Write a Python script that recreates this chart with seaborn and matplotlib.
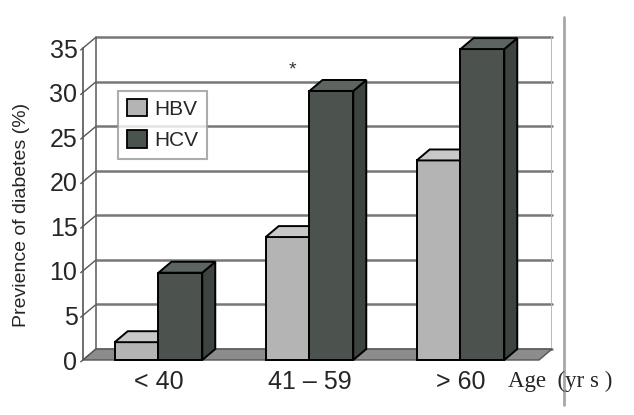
import numpy as np
import pandas as pd
import seaborn as sns
import matplotlib
matplotlib.use("Agg")
import matplotlib.pyplot as plt
from matplotlib.patches import Polygon, Patch
from matplotlib.lines import Line2D

age_groups = ["< 40", "41 \u2013 59", "> 60"]
viruses = ["HBV", "HCV"]
hbv_prev = [2.0, 13.8, 22.4]
hcv_prev = [9.8, 30.2, 34.9]
y_ticks = [0, 5, 10, 15, 20, 25, 30, 35]

df = pd.DataFrame({
    "age": age_groups * 2,
    "virus": ["HBV"] * 3 + ["HCV"] * 3,
    "prev": hbv_prev + hcv_prev,
})

front = {"HBV": "#b4b4b4", "HCV": "#4b534e"}
top = {"HBV": "#c8c8c8", "HCV": "#5d6560"}
side = {"HBV": "#999999", "HCV": "#3d433f"}

sns.set_style("white")
plt.rcParams["font.family"] = ["Liberation Sans", "DejaVu Sans"]

fig = plt.figure(figsize=(6.34, 4.15), dpi=100)
ax = fig.add_axes([83 / 634, 55 / 415, 469 / 634, 324.3 / 415])

sns.barplot(data=df, x="age", y="prev", hue="virus", hue_order=viruses,
            palette=[front[v] for v in viruses], width=0.58,
            edgecolor="black", linewidth=1.4, legend=False, ax=ax)

x_lo, x_front_hi = -0.5, 2.52
dx, dy = 0.086, 1.23   # depth offset of the fake 3d
ax.set_xlim(x_lo, x_front_hi + dx)
ax.set_ylim(0, 36.4)
for s in ax.spines.values():
    s.set_visible(False)

# back wall, floor and slanted ticks
grid_c = "#777777"
for t in y_ticks:
    ax.plot([x_lo + dx, x_front_hi + dx], [t + dy, t + dy], color=grid_c,
            lw=1.8, zorder=0.5, clip_on=False)
    ax.plot([x_lo - 0.015, x_lo + dx], [t - 0.2, t + dy], color="#555555",
            lw=1.0, zorder=0.6, clip_on=False)
ax.plot([x_lo + dx] * 2, [dy, 35 + dy], color="#666666", lw=1.2, zorder=0.6)
ax.plot([x_front_hi + dx] * 2, [dy, 35 + dy], color="#bbbbbb", lw=1.4, zorder=0.6)
ax.plot([x_lo] * 2, [0, 35], color="#555555", lw=1.2, zorder=0.6, clip_on=False)
floor = Polygon([(x_lo, 0), (x_front_hi, 0), (x_front_hi + dx, dy), (x_lo + dx, dy)],
                closed=True, facecolor="#8c8c8c", edgecolor="#555555", lw=1.0,
                zorder=1, clip_on=False)
ax.add_patch(floor)

# 3d faces on each bar
bars = list(ax.patches)[:6]
for i, rect in enumerate(bars):
    v = viruses[i // 3]
    z = 3 + i // 3
    x, w, h = rect.get_x(), rect.get_width(), rect.get_height()
    rect.set_zorder(z)
    rect.set_clip_on(False)
    tp = Polygon([(x, h), (x + w, h), (x + w + dx, h + dy), (x + dx, h + dy)],
                 closed=True, facecolor=top[v], edgecolor="black", lw=1.4,
                 zorder=z, clip_on=False)
    sd = Polygon([(x + w, 0), (x + w + dx, dy), (x + w + dx, h + dy), (x + w, h)],
                 closed=True, facecolor=side[v], edgecolor="black", lw=1.4,
                 zorder=z, clip_on=False)
    ax.add_patch(sd)
    ax.add_patch(tp)

ax.text(0.89, 32.6, "*", ha="center", va="center", fontsize=14, color="#333333")

ax.set_yticks(y_ticks)
ax.set_yticklabels([str(t) for t in y_ticks])
ax.tick_params(axis="y", length=0, pad=4, labelsize=18)
ax.tick_params(axis="x", length=0, pad=7, labelsize=18)
ax.set_xlabel("")
ax.set_ylabel("Previence of diabetes (%)", fontsize=14)
ax.yaxis.set_label_coords(-0.113, 0.447)

handles = [Patch(facecolor=front[v], edgecolor="black", lw=1.3) for v in viruses]
leg = ax.legend(handles, viruses, loc="upper left", bbox_to_anchor=(0.075, 0.83),
                borderaxespad=0, fontsize=15, handlelength=1.0, handleheight=0.9,
                handletextpad=0.35, labelspacing=0.55, borderpad=0.4,
                fancybox=False, frameon=True)
leg.get_frame().set_edgecolor("#999999")
leg.get_frame().set_linewidth(1.5)
leg.set_zorder(10)

fig.text(508 / 634, 28 / 415, "Age\u2002(yr s )", fontsize=16.5,
         family=["Liberation Serif", "DejaVu Serif"], va="baseline")
fig.add_artist(Line2D([564 / 634] * 2, [10 / 415, 398 / 415], color="#a8a8a8", lw=2))

fig.savefig("out.png", dpi=100)
